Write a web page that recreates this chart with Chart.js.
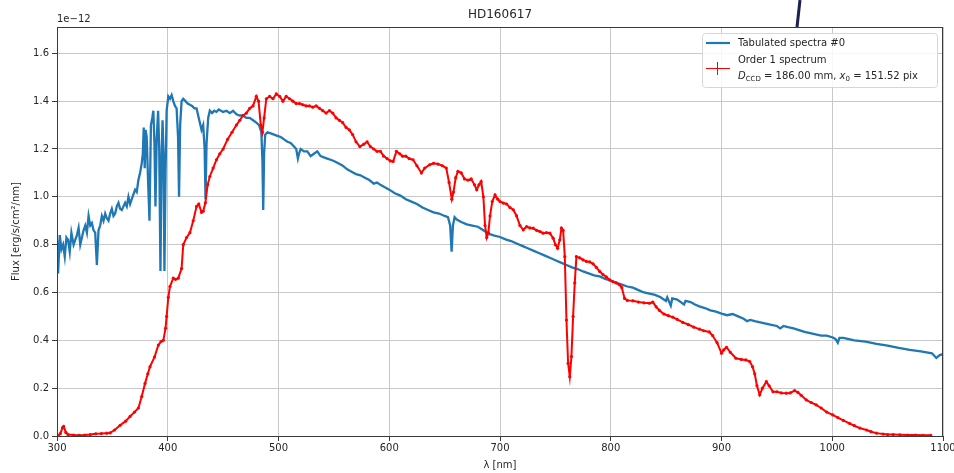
<!DOCTYPE html>
<html>
<head>
<meta charset="utf-8">
<script src="https://cdn.jsdelivr.net/npm/chart.js@4.4.1/dist/chart.umd.min.js"></script>
<style>
  html, body { margin: 0; padding: 0; background: #fff; }
  #wrap { width: 954px; height: 473px; }
</style>
</head>
<body>
<div id="wrap"><canvas id="chartSpectrum" width="954" height="473"></canvas></div>
<script>
/* ── HD160617 : spectre tabulé vs spectre ordre 1 ── */

// flux in units of 1e-12 erg/s/cm2/nm
var blueWl = [
  300, 301, 302.5, 304, 305.5, 307, 308.5, 310, 311.5, 313, 315, 316.5, 318, 319.5, 321, 322.5,
  324, 325.5, 327, 328.5, 330, 331.5, 333, 334.5, 336, 337.5, 339, 340.5, 342, 343.5, 345, 346.5,
  348, 349.5, 351, 352.5, 354, 355.5, 357, 358.5, 360, 361.5, 363, 364.5, 366, 367.5, 369, 370.5,
  372, 373.5, 375, 376.5, 377.5, 378.3, 379.2, 380, 381, 382, 383.5, 384.8, 386, 387, 388, 388.9,
  390, 391.3, 392.3, 393.4, 394.5, 395.3, 396.2, 397, 398, 399, 400.5, 402, 403.5, 405, 406.5, 408,
  409.3, 410.2, 411.2, 412.5, 414, 416, 418, 420, 422, 424, 426, 428, 430.5, 432, 433.3, 434.1,
  435, 436.5, 438, 440, 442, 444, 446, 448, 450, 453, 456, 459, 462, 465, 468, 471,
  474, 477, 480, 482.5, 484.5, 485.5, 486.2, 487, 488, 490, 493, 496, 499, 502, 505, 508,
  511, 514, 516, 517.5, 518.5, 520, 523, 526, 529, 532, 535, 538, 541, 544, 547, 550,
  554, 558, 562, 566, 570, 574, 578, 582, 586, 589, 592, 596, 600, 605, 610, 615,
  620, 625, 630, 635, 640, 645, 650, 653, 655, 656.3, 657.5, 659, 661, 665, 670, 675,
  680, 685, 690, 695, 700, 705, 710, 715, 720, 725, 730, 735, 740, 745, 750, 755,
  760, 765, 770, 775, 780, 785, 790, 795, 800, 805, 810, 815, 820, 825, 830, 835,
  840, 845, 849.8, 851, 854.2, 855.5, 860, 866.2, 867.5, 872, 876, 880, 885, 890, 895, 900,
  905, 910, 915, 920, 923, 926, 930, 935, 940, 945, 950, 953, 956, 960, 965, 970,
  975, 980, 985, 990, 995, 1000.5, 1003, 1005, 1006.5, 1010, 1020, 1030, 1040, 1050, 1060, 1070,
  1080, 1090, 1094, 1097, 1100
];
var blueFlux = [
  0.82, 0.68, 0.84, 0.78, 0.80, 0.75, 0.83, 0.82, 0.77, 0.85, 0.80, 0.82, 0.84, 0.87, 0.80, 0.83,
  0.86, 0.88, 0.85, 0.92, 0.88, 0.89, 0.86, 0.85, 0.715, 0.86, 0.88, 0.92, 0.90, 0.93, 0.91, 0.90,
  0.93, 0.95, 0.92, 0.93, 0.96, 0.975, 0.95, 0.945, 0.96, 0.975, 0.96, 1.00, 0.97, 0.99, 1.01, 1.03,
  1.02, 1.07, 1.10, 1.14, 1.18, 1.29, 1.12, 1.28, 1.25, 1.10, 0.90, 1.30, 1.33, 1.36, 1.22, 0.96,
  1.24, 1.36, 1.20, 0.69, 1.18, 1.32, 1.18, 0.69, 1.10, 1.36, 1.42, 1.41, 1.425, 1.40, 1.38, 1.37,
  1.25, 1.00, 1.30, 1.40, 1.41, 1.40, 1.39, 1.385, 1.38, 1.37, 1.37, 1.33, 1.28, 1.30, 1.20, 0.99,
  1.22, 1.33, 1.36, 1.35, 1.36, 1.355, 1.365, 1.36, 1.355, 1.36, 1.35, 1.36, 1.345, 1.34, 1.34, 1.33,
  1.33, 1.32, 1.31, 1.30, 1.27, 1.15, 0.945, 1.18, 1.26, 1.27, 1.265, 1.26, 1.255, 1.25, 1.24, 1.23,
  1.225, 1.21, 1.20, 1.16, 1.18, 1.20, 1.19, 1.19, 1.17, 1.18, 1.19, 1.17, 1.165, 1.16, 1.155, 1.15,
  1.14, 1.13, 1.115, 1.105, 1.095, 1.09, 1.08, 1.07, 1.055, 1.06, 1.05, 1.04, 1.03, 1.015, 1.005, 0.99,
  0.98, 0.97, 0.955, 0.945, 0.935, 0.93, 0.92, 0.915, 0.88, 0.771, 0.88, 0.915, 0.905, 0.895, 0.885, 0.88,
  0.875, 0.86, 0.845, 0.838, 0.832, 0.822, 0.815, 0.805, 0.795, 0.785, 0.775, 0.765, 0.755, 0.745, 0.735, 0.725,
  0.715, 0.705, 0.698, 0.688, 0.68, 0.672, 0.667, 0.657, 0.65, 0.64, 0.633, 0.625, 0.62, 0.61, 0.60, 0.595,
  0.59, 0.58, 0.565, 0.58, 0.545, 0.575, 0.57, 0.55, 0.565, 0.56, 0.55, 0.542, 0.535, 0.525, 0.52, 0.512,
  0.505, 0.51, 0.50, 0.49, 0.48, 0.485, 0.48, 0.475, 0.47, 0.465, 0.46, 0.45, 0.46, 0.455, 0.45, 0.443,
  0.435, 0.43, 0.425, 0.42, 0.42, 0.412, 0.405, 0.39, 0.41, 0.41, 0.40, 0.395, 0.385, 0.378, 0.368, 0.36,
  0.354, 0.346, 0.326, 0.338, 0.342
];

var redWl = [
  301, 303, 305, 306, 308, 310, 315, 320, 325, 330, 335, 340, 345, 348, 352, 357,
  362, 366, 370, 373.5, 376.5, 379.5, 382, 384, 388, 391.5, 394, 396, 398, 399, 400.5, 402,
  405, 407, 409.5, 412.5, 414, 417, 420, 423, 426, 428, 430.5, 432, 434, 436, 438, 441,
  444, 447, 450, 454, 458, 462, 465, 468, 471, 474, 477, 480, 482, 484, 485.5, 487,
  489, 492, 495, 498, 501, 504, 507, 510, 513, 516, 519, 522, 525, 528, 531, 534,
  537, 540, 543, 546, 549, 552, 555, 558, 561, 564, 567, 570, 573.5, 577, 580, 583,
  586, 589, 592, 595, 598, 601, 603.5, 606.5, 609.5, 612, 615, 618, 621.5, 625, 629, 632,
  636.5, 640, 644, 648, 651.5, 654, 656.5, 658, 660, 662, 665, 668, 671, 674, 677, 679,
  681, 683, 685, 686.5, 688, 689.5, 691, 693, 695.5, 698, 700, 703, 706, 709, 712, 715,
  718, 721, 724, 727, 730, 733, 736, 739, 742, 745, 748, 750, 752, 754, 755.5, 757,
  758.5, 760, 761.5, 763, 764.5, 766, 767.5, 769, 772, 775, 778, 781, 784, 787, 790, 793,
  796, 799, 802, 805, 808, 810, 812.5, 815, 820, 825, 830, 835, 838, 841, 844, 848,
  852, 856, 860, 865, 870, 875, 880, 884, 889, 892, 896, 900, 902, 904.5, 908, 913,
  918, 922, 925.5, 928, 930, 932, 934.5, 937, 940.5, 943, 946.5, 950, 954, 958.5, 962, 966,
  969, 972, 976.5, 981, 985.5, 990, 995, 1000.5, 1005, 1010, 1015.5, 1020, 1025, 1031, 1035, 1040,
  1046, 1050, 1055, 1061, 1068, 1075, 1082, 1089
];
var redFlux = [
  0.00, 0.01, 0.035, 0.04, 0.015, 0.006, 0.004, 0.003, 0.004, 0.006, 0.009, 0.010, 0.012, 0.013, 0.025, 0.045,
  0.062, 0.082, 0.10, 0.117, 0.165, 0.22, 0.26, 0.29, 0.33, 0.38, 0.395, 0.40, 0.45, 0.50, 0.58, 0.625,
  0.66, 0.655, 0.66, 0.70, 0.80, 0.83, 0.85, 0.90, 0.96, 0.97, 0.935, 0.94, 0.975, 1.05, 1.085, 1.12,
  1.155, 1.18, 1.20, 1.24, 1.27, 1.30, 1.32, 1.34, 1.35, 1.37, 1.38, 1.42, 1.40, 1.30, 1.27, 1.33,
  1.41, 1.42, 1.41, 1.43, 1.42, 1.40, 1.42, 1.41, 1.40, 1.39, 1.39, 1.385, 1.38, 1.38, 1.375, 1.38,
  1.37, 1.36, 1.35, 1.36, 1.35, 1.33, 1.32, 1.31, 1.29, 1.28, 1.26, 1.23, 1.21, 1.22, 1.23, 1.21,
  1.20, 1.19, 1.19, 1.17, 1.16, 1.15, 1.148, 1.19, 1.18, 1.17, 1.17, 1.16, 1.155, 1.13, 1.10, 1.12,
  1.134, 1.14, 1.137, 1.13, 1.12, 1.06, 0.99, 1.02, 1.08, 1.106, 1.10, 1.075, 1.07, 1.075, 1.05, 1.03,
  1.05, 1.064, 1.00, 0.88, 0.83, 0.85, 0.92, 0.98, 1.008, 0.99, 0.98, 0.974, 0.97, 0.955, 0.946, 0.92,
  0.88, 0.862, 0.875, 0.87, 0.869, 0.86, 0.855, 0.848, 0.85, 0.848, 0.827, 0.80, 0.785, 0.82, 0.869, 0.86,
  0.75, 0.485, 0.304, 0.248, 0.332, 0.50, 0.64, 0.75, 0.745, 0.736, 0.73, 0.728, 0.72, 0.705, 0.688, 0.675,
  0.665, 0.653, 0.645, 0.64, 0.632, 0.62, 0.575, 0.567, 0.565, 0.56, 0.557, 0.555, 0.56, 0.54, 0.525, 0.51,
  0.503, 0.497, 0.488, 0.475, 0.466, 0.455, 0.447, 0.44, 0.435, 0.42, 0.39, 0.346, 0.36, 0.371, 0.35, 0.325,
  0.32, 0.318, 0.311, 0.29, 0.26, 0.21, 0.172, 0.20, 0.227, 0.21, 0.185, 0.185, 0.18, 0.179, 0.18, 0.19,
  0.182, 0.17, 0.151, 0.14, 0.13, 0.117, 0.10, 0.088, 0.077, 0.065, 0.053, 0.043, 0.033, 0.025, 0.018, 0.012,
  0.008, 0.006, 0.006, 0.005, 0.004, 0.004, 0.003, 0.003
];

var xTicks = [300, 400, 500, 600, 700, 800, 900, 1000, 1100];
var yTicks = [0.0, 0.2, 0.4, 0.6, 0.8, 1.0, 1.2, 1.4, 1.6];

var FONT = 'DejaVu Sans, sans-serif';
var BLUE = '#1f77b4';
var RED = '#ff0000';
var TXT = '#262626';

function toPoints(xs, ys) {
  return xs.map(function(x, i) { return { x: x, y: ys[i] }; });
}

// titre, facteur 1e-12, cadre, légende manuelle
var decorPlugin = {
  id: 'decor',
  afterDraw: function(chart) {
    var ctx = chart.ctx, a = chart.chartArea;
    ctx.save();
    // cadre complet
    ctx.strokeStyle = '#3a3a3a';
    ctx.lineWidth = 1;
    ctx.strokeRect(Math.round(a.left) + 0.5, Math.round(a.top) + 0.5, Math.round(a.right - a.left) - 1, Math.round(a.bottom - a.top));

    ctx.fillStyle = TXT;
    ctx.textBaseline = 'middle';
    ctx.font = '12px ' + FONT;
    ctx.textAlign = 'center';
    ctx.fillText('HD160617', (a.left + a.right) / 2, 15);
    ctx.font = '10px ' + FONT;
    ctx.textAlign = 'left';
    ctx.fillText('1e\u221212', a.left, 19);

    // légende
    var lx = 702, ly = 33, lw = 235, lh = 54;
    ctx.beginPath();
    ctx.roundRect(lx + 0.5, ly + 0.5, lw, lh, 3);
    ctx.fillStyle = 'rgba(255,255,255,0.85)';
    ctx.fill();
    ctx.strokeStyle = '#d6d6d6';
    ctx.stroke();

    ctx.strokeStyle = BLUE;
    ctx.lineWidth = 2.2;
    ctx.beginPath(); ctx.moveTo(706, 43); ctx.lineTo(730, 43); ctx.stroke();

    ctx.strokeStyle = RED;
    ctx.lineWidth = 1;
    ctx.beginPath();
    ctx.moveTo(706, 68.5); ctx.lineTo(730, 68.5);
    ctx.moveTo(717.5, 62); ctx.lineTo(717.5, 75);
    ctx.stroke();

    ctx.fillStyle = TXT;
    ctx.font = '10px ' + FONT;
    ctx.fillText('Tabulated spectra #0', 738, 43);
    ctx.fillText('Order 1 spectrum', 738, 60);

    // D_CCD = 186.00 mm, x_0 = 151.52 pix
    ctx.textBaseline = 'alphabetic';
    var parts = [
      ['italic 10px ' + FONT, 'D', 0],
      ['7px ' + FONT, 'CCD', 2],
      ['10px ' + FONT, ' = 186.00 mm, ', 0],
      ['italic 10px ' + FONT, 'x', 0],
      ['7px ' + FONT, '0', 2],
      ['10px ' + FONT, ' = 151.52 pix', 0]
    ];
    var cx = 738, base = 79;
    parts.forEach(function(p) {
      ctx.font = p[0];
      ctx.fillText(p[1], cx, base + p[2]);
      cx += ctx.measureText(p[1]).width;
    });

    // trait sombre au-dessus du cadre (présent sur la capture)
    ctx.strokeStyle = '#1c2150';
    ctx.lineWidth = 3;
    ctx.beginPath(); ctx.moveTo(800, 0); ctx.lineTo(797, 27); ctx.stroke();
    ctx.restore();
  }
};

var ctxSpec = document.getElementById('chartSpectrum');
var chartSpectrum = new Chart(ctxSpec, {
  type: 'line',
  data: {
    datasets: [
      {
        label: 'Order 1 spectrum',
        data: toPoints(redWl, redFlux),
        borderColor: RED,
        backgroundColor: RED,
        borderWidth: 2,
        pointStyle: 'circle',
        pointRadius: 1.6,
        pointBorderWidth: 0,
        pointBackgroundColor: RED,
        tension: 0,
        order: 0
      },
      {
        label: 'Tabulated spectra #0',
        data: toPoints(blueWl, blueFlux),
        borderColor: BLUE,
        backgroundColor: BLUE,
        borderWidth: 2.3,
        pointRadius: 0,
        tension: 0,
        order: 1
      }
    ]
  },
  options: {
    responsive: false,
    animation: false,
    devicePixelRatio: 1,
    layout: { padding: { left: 0, right: 11, top: 27, bottom: 0 } },
    plugins: {
      legend: { display: false },
      tooltip: { enabled: false },
      title: { display: false }
    },
    scales: {
      x: {
        type: 'linear',
        min: 300, max: 1100,
        afterBuildTicks: function(s) { s.ticks = xTicks.map(function(v) { return { value: v }; }); },
        afterFit: function(s) { s.height = 37; s.paddingLeft = 0; s.paddingRight = 0; },
        ticks: {
          color: TXT, font: { family: FONT, size: 10 }, padding: 1, maxRotation: 0,
          callback: function(v) { return String(v); }
        },
        grid: { color: '#c8c8c8', lineWidth: 1, tickColor: '#3a3a3a', tickLength: 5 },
        border: { display: false },
        title: { display: true, text: '\u03bb [nm]', color: TXT, font: { family: FONT, size: 10 }, padding: { top: 0, bottom: 2 } }
      },
      y: {
        min: 0, max: 1.71,
        afterBuildTicks: function(s) { s.ticks = yTicks.map(function(v) { return { value: v }; }); },
        afterFit: function(s) { s.width = 57; s.paddingTop = 0; s.paddingBottom = 0; },
        ticks: {
          color: TXT, font: { family: FONT, size: 10 }, padding: 3,
          callback: function(v) { return v.toFixed(1); }
        },
        grid: { color: '#c8c8c8', lineWidth: 1, tickColor: '#3a3a3a', tickLength: 5 },
        border: { display: false },
        title: { display: true, text: 'Flux [erg/s/cm\u00b2/nm]', color: TXT, font: { family: FONT, size: 10 }, padding: { top: 10, bottom: 0 } }
      }
    }
  },
  plugins: [decorPlugin]
});
</script>
</body>
</html>
